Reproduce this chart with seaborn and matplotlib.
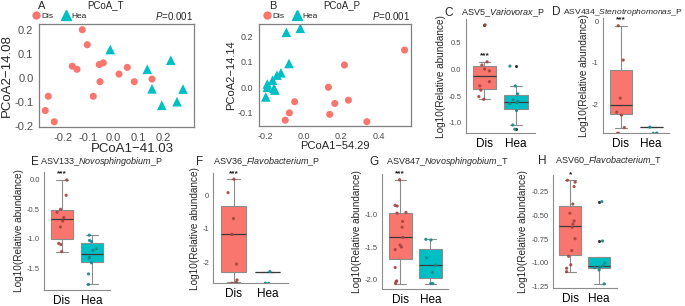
import numpy as np
import pandas as pd
import matplotlib
matplotlib.use("Agg")
import matplotlib.pyplot as plt
import seaborn as sns
from matplotlib.lines import Line2D
from matplotlib.ticker import FormatStrFormatter
from matplotlib.cbook import boxplot_stats

NEG = -np.inf  # log10(0) -> not detected, drawn on the panel edge

# PCoA of T samples
t_dis_x = [-0.123, -0.103, -0.163, -0.144, -0.055, -0.039, 0.057, 0.024, -0.052, 0.085, 0.156, -0.259, -0.079, -0.271, -0.235]
t_dis_y = [0.203, 0.140, 0.050, 0.037, 0.057, 0.064, 0.045, 0.017, -0.015, -0.015, -0.004, -0.076, -0.076, -0.136, -0.183]
t_hea_x = [-0.011, 0.137, 0.231, 0.156, 0.280, 0.195, 0.256]
t_hea_y = [0.120, 0.037, 0.075, -0.045, -0.046, -0.114, -0.099]

# PCoA of P samples
p_dis_x = [0.217, 0.132, 0.238, 0.166, 0.139, -0.047, -0.075, -0.097, 0.536, 0.336]
p_dis_y = [0.088, 0.0, -0.051, -0.064, -0.107, -0.057, -0.101, -0.130, 0.147, -0.136]
p_hea_x = [-0.017, -0.091, -0.077, -0.120, -0.141, -0.164, -0.192, -0.192, -0.157, -0.152, -0.200]
p_hea_y = [0.233, 0.217, 0.094, 0.057, 0.048, 0.028, 0.013, 0.0, -0.004, -0.011, -0.038]

# log10 relative abundance of the marker ASVs
c_dis = [0.83, 0.14, 0.08, 0.006, -0.03, -0.23, -0.31, -0.39, -0.51, -0.56]
c_hea = [0.06, -0.31, -0.46, -0.57, -0.60, -0.62, -0.64, -0.77, -1.04, -1.12]
d_dis = [-0.10, -0.93, -1.85, -2.19, -2.26, -2.56, NEG, NEG]
d_hea = [-2.55, NEG, NEG, NEG]
e_dis = [0.0, -0.26, -0.50, -0.55, -0.64, -0.70, -0.80, -1.08, -1.10, -1.22]
e_hea = [-0.94, -1.03, -1.05, -1.17, -1.20, -1.31, -1.33, -1.41, -1.60, -1.78]
f_dis = [0.47, 0.07, -0.70, -1.17, -2.05, -2.52, -2.59, NEG, NEG]
f_hea = [-2.27, NEG, NEG, NEG]
g_dis = [-0.45, -0.85, -0.86, -0.96, -0.97, -1.10, -1.19, -1.35, -1.47, -1.50, -1.54, -1.82, -2.03, -2.04, -2.07]
g_hea = [-1.38, -1.39, -1.67, -1.78, -1.90, -2.07, -2.07]
h_dis = [-0.13, -0.15, -0.197, -0.38, -0.477, -0.558, -0.59, -0.625, -0.745, -0.87, -0.93, -1.02, -1.056, -1.092]
h_hea = [-0.355, -0.77, -1.0, -1.03, -1.045, -1.05, -1.074, -1.22]

groups = ["Dis", "Hea"]
fill = {"Dis": "#F8766D", "Hea": "#00BFC4"}
dots = {"Dis": "#A4433D", "Hea": "#17878A"}

sns.set_style("white")
plt.rcParams["font.family"] = ["Liberation Sans", "DejaVu Sans"]
plt.rcParams["mathtext.fontset"] = "custom"
plt.rcParams["mathtext.it"] = "Liberation Sans:italic"
plt.rcParams["mathtext.rm"] = "Liberation Sans"
plt.rcParams["axes.unicode_minus"] = False
np.random.seed(3)

W, H = 685, 306
fig = plt.figure(figsize=(W / 100, H / 100), dpi=100)


def rect(l, t, r, b):
    return [l / W, 1 - b / H, (r - l) / W, (b - t) / H]


def ftext(x, y, s, **kw):
    fig.text(x / W, 1 - y / H, s, **kw)


def pcoa(box, dis_x, dis_y, hea_x, hea_y, xlim, ylim, xticks, yticks,
         xlab, ylab, fs, letter, title, lx, tx, px, leg_x):
    ax = fig.add_axes(rect(*box))
    df = pd.DataFrame({"x": dis_x + hea_x, "y": dis_y + hea_y,
                       "group": ["Dis"] * len(dis_x) + ["Hea"] * len(hea_x)})
    sns.scatterplot(data=df, x="x", y="y", hue="group", style="group", size="group",
                    palette=fill, markers={"Dis": "o", "Hea": "^"},
                    sizes={"Dis": 26, "Hea": 48}, linewidth=0, legend=False, ax=ax)
    ax.set_xlim(*xlim)
    ax.set_ylim(*ylim)
    ax.set_xticks(xticks)
    ax.set_yticks(yticks)
    ax.xaxis.set_major_formatter(FormatStrFormatter("%.1f"))
    ax.yaxis.set_major_formatter(FormatStrFormatter("%.1f"))
    for s in ax.spines.values():
        s.set_color("#7f7f7f")
        s.set_linewidth(0.9)
    ax.tick_params(length=2.5, width=0.6, color="#7f7f7f", labelcolor="#4d4d4d",
                   labelsize=fs - 1.5, pad=1.5)
    ax.set_xlabel(xlab, fontsize=fs, labelpad=0)
    ax.set_ylabel(ylab, fontsize=fs, labelpad=1)
    ftext(lx, 6, letter, fontsize=8, ha="center", va="center")
    ftext(tx, 5, title, fontsize=7, ha="center", va="center")
    ftext(px, 16, r"$\it{P}$=0.001", fontsize=7, ha="right", va="center")
    handles = [Line2D([], [], marker="o", ls="", color=fill["Dis"], markersize=5),
               Line2D([], [], marker="^", ls="", color=fill["Hea"], markersize=6.5)]
    fig.legend(handles, groups, loc="center left", bbox_to_anchor=(leg_x / W, 1 - 16 / H),
               ncol=2, frameon=False, fontsize=6, handletextpad=0.1, columnspacing=0.8,
               borderpad=0, handlelength=1.2, borderaxespad=0)
    return ax


axA = pcoa((39, 24, 194, 127), t_dis_x, t_dis_y, t_hea_x, t_hea_y,
           (-0.296, 0.324), (-0.205, 0.227), [-0.2, -0.1, 0, 0.1, 0.2], [-0.2, -0.1, 0, 0.1, 0.2],
           "PCoA1\u221241.03", "PCoA2\u221214.08", 9.5, "A", "PCoA_T", 42, 106, 193, 31)
axA.xaxis.set_label_coords(0.6, -0.155)
axB = pcoa((259, 24, 411, 126), p_dis_x, p_dis_y, p_hea_x, p_hea_y,
           (-0.236, 0.57), (-0.153, 0.25), [-0.2, 0, 0.2, 0.4], [-0.1, 0, 0.1, 0.2],
           "PCoA1\u221254.29", "PCoA2\u221214.14", 8, "B", "PCoA_P", 273, 342, 410, 262)

# box panels: letter, asv, genus, suffix, data, axes box, ylim, yticks, format, stars, title pos
panels = [
    ("C", "ASV5", "Variovorax", "P", c_dis, c_hea, (465.7, 19, 534.6, 133.3),
     (-1.196, 0.94), [-1.0, -0.5, 0.0, 0.5], "%.1f", "***", (449, 461, 12.5), 6.5),
    ("D", "ASV434", "Stenotrophomonas", "P", d_dis, d_hea, (602.7, 18.3, 669.4, 133.3),
     (-2.70, 0.08), [-2, -1, 0], "%d", "***", (556, 563, 12), 6.1),
    ("E", "ASV133", "Novosphingobium", "P", e_dis, e_hea, (44, 171.7, 110, 290),
     (-1.874, 0.141), [-1.5, -1.0, -0.5, 0.0], "%.1f", "***", (34.5, 39.5, 162), 6.5),
    ("F", "ASV36", "Flavobacterium", "P", f_dis, f_hea, (213.3, 173.3, 288, 283.3),
     (-2.62, 0.644), [-2, -1, 0], "%d", "***", (200, 213, 162), 6.5),
    ("G", "ASV847", "Novosphingobium", "T", g_dis, g_hea, (382.3, 174, 448.3, 289.3),
     (-2.16, -0.36), [-2.0, -1.5, -1.0], "%.1f", "***", (373.5, 386, 162), 6.5),
    ("H", "ASV60", "Flavobacterium", "T", h_dis, h_hea, (552.7, 175, 616.7, 288.3),
     (-1.267, -0.075), [-1.25, -1.0, -0.75, -0.5, -0.25], "%.2f", "*", (542, 555, 161), 6.5),
]

for letter, asv, genus, suf, dis, hea, box, ylim, yticks, fmt, stars, tpos, tfs in panels:
    ax = fig.add_axes(rect(*box))
    df = pd.DataFrame({"group": ["Dis"] * len(dis) + ["Hea"] * len(hea),
                       "val": np.array(dis + hea, dtype=float)})
    finite = df[np.isfinite(df["val"])]
    sns.boxplot(data=finite, x="group", y="val", hue="group", order=groups, palette=fill,
                saturation=1, width=0.75, linewidth=0.8, linecolor="#8c8c8c", fliersize=2.2,
                legend=False, medianprops=dict(color="#3a3a3a", linewidth=0.9),
                flierprops=dict(marker="o", markerfacecolor="#333333", markeredgecolor="none"),
                ax=ax)
    df["plot"] = df["val"].where(np.isfinite(df["val"]), ylim[0])
    sns.stripplot(data=df, x="group", y="plot", hue="group", order=groups, palette=dots,
                  jitter=0.2, size=2.3, linewidth=0, alpha=0.9, legend=False, ax=ax, zorder=4)
    ax.set_xlim(-0.6, 1.6)
    ax.set_ylim(*ylim)
    ax.set_yticks(yticks)
    ax.yaxis.set_major_formatter(FormatStrFormatter(fmt))
    sns.despine(ax=ax)
    for s in ("left", "bottom"):
        ax.spines[s].set_color("#8c8c8c")
        ax.spines[s].set_linewidth(0.8)
    ax.tick_params(axis="y", length=2, width=0.5, color="#8c8c8c", labelcolor="#4d4d4d",
                   labelsize=5.5, pad=1)
    ax.tick_params(axis="x", length=2, width=0.5, color="#8c8c8c", labelcolor="black",
                   labelsize=8.5, pad=1.5)
    ax.set_xlabel("")
    ax.set_ylabel("Log10(Relative abundance)", fontsize=7.2, labelpad=2)
    # significance mark just above the upper whisker of Dis
    top = boxplot_stats(finite.loc[finite["group"] == "Dis", "val"])[0]["whishi"]
    ax.text(0, top + 0.05 * (ylim[1] - ylim[0]), stars, ha="center", va="center",
            fontsize=6, fontweight="bold", color="#222222")
    lx, tx, ty = tpos
    ftext(lx, ty, letter, fontsize=8.5, ha="center", va="center")
    ftext(tx, ty, f"{asv}_$\\it{{{genus}}}$_{suf}", fontsize=tfs, ha="left", va="center")

fig.savefig("out.png", dpi=100)
